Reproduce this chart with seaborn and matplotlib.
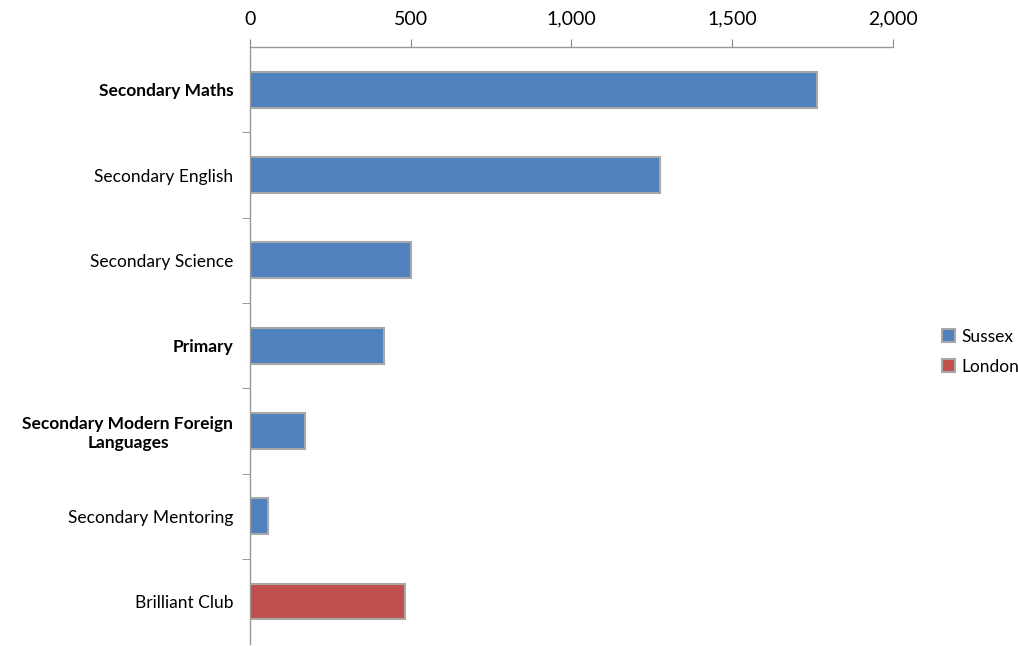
import numpy as np
import pandas as pd
import seaborn as sns
import matplotlib.pyplot as plt
from matplotlib.ticker import FuncFormatter, FixedLocator

categories = ['Secondary Maths', 'Secondary English', 'Secondary Science', 'Primary',
              'Secondary Modern Foreign\nLanguages', 'Secondary Mentoring', 'Brilliant Club']
values = [1765, 1275, 500, 418, 170, 55, 482]
region = ['Sussex', 'Sussex', 'Sussex', 'Sussex', 'Sussex', 'Sussex', 'London']
bold_labels = ['Secondary Maths', 'Primary', 'Secondary Modern Foreign\nLanguages']

df = pd.DataFrame({'Category': categories, 'Value': values, 'Region': region})

sns.set_style('white')
plt.rcParams['font.family'] = ['Lato', 'DejaVu Sans']

fig = plt.figure(figsize=(10.18, 6.46), dpi=100)
ax = fig.add_axes([0.2456, 0.003, 0.877 - 0.2456, 0.924])

palette = {'Sussex': '#4F81BD', 'London': '#C0504D'}
sns.barplot(data=df, x='Value', y='Category', hue='Region', palette=palette,
            dodge=False, width=0.42, edgecolor='#a8a8a8', linewidth=1.5,
            saturation=1, order=categories, hue_order=['Sussex', 'London'], ax=ax)

ax.set_xlim(0, 2000)
ax.set_ylim(len(categories) - 0.5, -0.5)
ax.xaxis.tick_top()
ax.xaxis.set_major_locator(FixedLocator([0, 500, 1000, 1500, 2000]))
ax.xaxis.set_major_formatter(FuncFormatter(lambda v, p: f'{int(v):,}'))
ax.tick_params(axis='x', which='major', top=True, bottom=False, length=6,
               color='#888888', labelsize=14, pad=8, direction='out',
               labelcolor='black')
ax.set_xlabel('')
ax.set_ylabel('')

# category tick marks sit between bars
ax.set_yticks(np.arange(len(categories)))
ax.set_yticklabels(categories, fontsize=12.5)
ax.set_yticks(np.arange(len(categories) - 1) + 0.5, minor=True)
ax.tick_params(axis='y', which='major', length=0, pad=12, labelcolor='black')
ax.tick_params(axis='y', which='minor', left=True, length=6, color='#888888')
for lbl in ax.get_yticklabels():
    lbl.set_multialignment('center')
    if lbl.get_text() in bold_labels:
        lbl.set_fontweight('bold')

for side in ['right', 'bottom']:
    ax.spines[side].set_visible(False)
for side in ['top', 'left']:
    ax.spines[side].set_color('#999999')
    ax.spines[side].set_linewidth(1)

leg = ax.legend(title=None, frameon=False, loc='center left', bbox_to_anchor=(1.065, 0.49),
                fontsize=12.5, handlelength=0.75, handleheight=0.75, handletextpad=0.4,
                labelspacing=0.8, borderaxespad=0)
for t in leg.get_texts():
    t.set_color('black')

fig.savefig('out.png', dpi=100)
